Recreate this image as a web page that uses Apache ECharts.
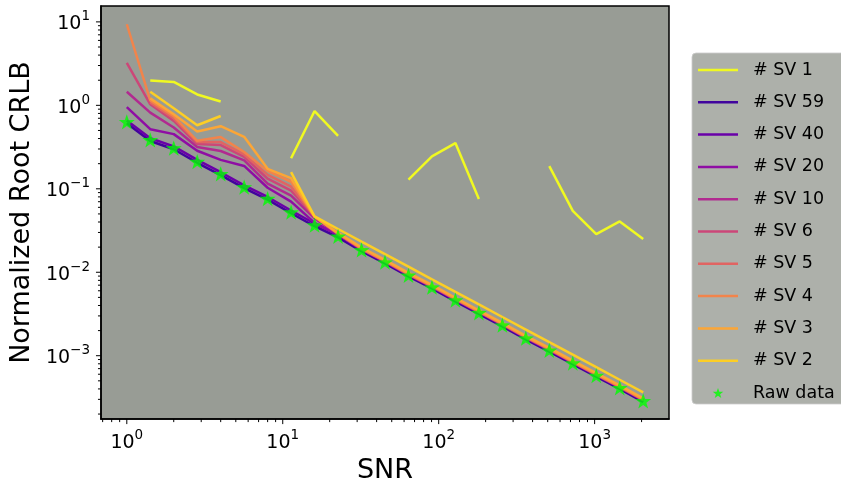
<!DOCTYPE html>
<html><head><meta charset="utf-8">
<script src="https://cdn.jsdelivr.net/npm/echarts@6/dist/echarts.min.js"></script>
<style>html,body{margin:0;padding:0;background:#fff}#c{width:841px;height:489px}</style>
</head><body><div id="c"></div>
<script>
// SNR sample points (x)
const snr = [1, 1.414, 2, 2.828, 4, 5.657, 8, 11.31, 16, 22.63, 32, 45.25, 64, 90.51, 128, 181.0, 256, 362.0, 512, 724.1, 1024, 1448, 2048];

// Normalized root CRLB per number of SVs (null = no value)
const sv1  = [null, 1.98, 1.91, 1.35, 1.11, null, null, 0.232, 0.855, 0.431, null, null, 0.129, 0.245, 0.353, 0.0756, null, null, 0.187, 0.0545, 0.0287, 0.0406, 0.025];
const sv59 = [0.612, 0.374, 0.298, 0.205, 0.146, 0.102, 0.0741, 0.0509, 0.0356, 0.0261, 0.0179, 0.0128, 0.0089, 0.00641, 0.00449, 0.00317, 0.00225, 0.00157, 0.00112, 0.00079, 0.00056, 0.0004, 0.000279];
const sv40 = [0.66, 0.403, 0.322, 0.222, 0.158, 0.11, 0.0798, 0.0549, 0.0384, 0.0281, 0.0193, 0.0138, 0.0096, 0.00691, 0.00484, 0.00342, 0.00242, 0.00169, 0.00121, 0.000853, 0.000604, 0.000431, 0.000301];
const sv20 = [0.954, 0.518, 0.452, 0.286, 0.222, 0.188, 0.103, 0.0702, 0.039, 0.0282, 0.0187, 0.0133, 0.00927, 0.00668, 0.00468, 0.0033, 0.00234, 0.00164, 0.00117, 0.000824, 0.000584, 0.000416, 0.000291];
const sv10 = [1.455, 0.819, 0.543, 0.317, 0.284, 0.219, 0.115, 0.0828, 0.0441, 0.0288, 0.0189, 0.01346, 0.00936, 0.00674, 0.00472, 0.00334, 0.00237, 0.00165, 0.00118, 0.000832, 0.00059, 0.00042, 0.000294];
const sv6  = [3.22, 1.028, 0.651, 0.344, 0.3345, 0.241, 0.132, 0.0949, 0.0466, 0.029, 0.0191, 0.0136, 0.00946, 0.00681, 0.00477, 0.00337, 0.00239, 0.00167, 0.00119, 0.00084, 0.000595, 0.000424, 0.000297];
const sv5  = [null, 1.086, 0.70, 0.363, 0.363, 0.258, 0.147, 0.106, 0.0466, 0.0291, 0.0192, 0.01366, 0.0095, 0.00684, 0.00479, 0.00338, 0.0024, 0.00168, 0.0012, 0.000845, 0.000598, 0.000426, 0.000298];
const sv4  = [9.37, 1.147, 0.74, 0.376, 0.4165, 0.276, 0.164, 0.1215, 0.0466, 0.0292, 0.01924, 0.01373, 0.00955, 0.00687, 0.00482, 0.0034, 0.00241, 0.001685, 0.001206, 0.000849, 0.000601, 0.000428, 0.0003];
const sv3  = [null, 1.211, 0.782, 0.487, 0.563, 0.42, 0.1734, 0.1344, 0.0466, 0.0296, 0.0198, 0.0141, 0.00982, 0.00707, 0.00495, 0.0035, 0.00248, 0.00173, 0.00124, 0.000873, 0.000618, 0.000441, 0.000308];
const sv2  = [null, 1.455, 0.921, 0.578, 0.746, null, null, 0.1584, 0.0466, 0.033, 0.0233, 0.01647, 0.01166, 0.00824, 0.00583, 0.00412, 0.00291, 0.00206, 0.001457, 0.00103, 0.000729, 0.000515, 0.000364];
const rawData = [0.633, 0.386, 0.308, 0.212, 0.151, 0.105, 0.0764, 0.0525, 0.0367, 0.0269, 0.0185, 0.0132, 0.00918, 0.00661, 0.00463, 0.00327, 0.00232, 0.00162, 0.00116, 0.000816, 0.000578, 0.000412, 0.000288];

const lineNames = ['# SV 1', '# SV 59', '# SV 40', '# SV 20', '# SV 10', '# SV 6', '# SV 5', '# SV 4', '# SV 3', '# SV 2'];
const lineValues = [sv1, sv59, sv40, sv20, sv10, sv6, sv5, sv4, sv3, sv2];
const rawName = 'Raw data';

// tick values
const xMajorTicks = [1, 10, 100, 1000];
const xMinorTicks = [0.7, 0.8, 0.9, 2, 3, 4, 5, 6, 7, 8, 9, 20, 30, 40, 50, 60, 70, 80, 90, 200, 300, 400, 500, 600, 700, 800, 900, 2000];
const yMajorTicks = [0.001, 0.01, 0.1, 1, 10];
const yMinorTicks = [0.0002, 0.0003, 0.0004, 0.0005, 0.0006, 0.0007, 0.0008, 0.0009,
  0.002, 0.003, 0.004, 0.005, 0.006, 0.007, 0.008, 0.009,
  0.02, 0.03, 0.04, 0.05, 0.06, 0.07, 0.08, 0.09,
  0.2, 0.3, 0.4, 0.5, 0.6, 0.7, 0.8, 0.9,
  2, 3, 4, 5, 6, 7, 8, 9];

const colors = ['#f0f921', '#41049d', '#6a00a8', '#8f0da4', '#b12a90', '#cc4778', '#e16462', '#f2844b', '#fca636', '#fcce25'];
const X_MIN = 0.683, X_MAX = 2998, Y_MIN = 1.74e-4, Y_MAX = 15.5;
const FONT = 'DejaVu Sans';
const STAR = 'path://M0,-10 L2.35,-3.24 L9.51,-3.09 L3.8,1.24 L5.88,8.09 L0,4 L-5.88,8.09 L-3.8,1.24 L-9.51,-3.09 L-2.35,-3.24 Z';
const LINE_ICON = 'path://M0,0 L40,0 L40,2.5 L0,2.5 Z';

function expLabel(v) {
  const e = Math.round(Math.log10(v));
  const s = e < 0 ? '\u2212' + (-e) : String(e);
  return '{b|10}{s|' + s + '}';
}
const rich = {
  b: {fontSize: 19, fontFamily: FONT, color: '#000', lineHeight: 24, verticalAlign: 'bottom'},
  s: {fontSize: 13.5, fontFamily: FONT, color: '#000', verticalAlign: 'top', lineHeight: 14}
};

function tickSeries(values, dir, len) {
  return {
    type: 'custom', silent: true, clip: false, z: 10, animation: false,
    data: values.map(v => dir === 'x' ? [v, Y_MIN] : [X_MIN, v]),
    renderItem: function (params, api) {
      const p = api.coord([api.value(0), api.value(1)]);
      const shape = dir === 'x'
        ? {x1: p[0], y1: p[1], x2: p[0], y2: p[1] + len}
        : {x1: p[0], y1: p[1], x2: p[0] - len, y2: p[1]};
      return {type: 'line', shape: shape, style: {stroke: '#000', lineWidth: 1}};
    }
  };
}

const series = lineNames.map((name, i) => ({
  name: name, type: 'line', symbol: 'none', showSymbol: false,
  data: snr.map((x, j) => [x, lineValues[i][j]]),
  connectNulls: false,
  lineStyle: {color: colors[i], width: 2.5},
  itemStyle: {color: colors[i]},
  z: 2
}));
series.push({
  name: rawName, type: 'scatter', symbol: STAR, symbolSize: 16, symbolKeepAspect: true,
  data: snr.map((x, j) => [x, rawData[j]]),
  itemStyle: {color: '#00ff00'}, z: 3
});
series.push(tickSeries(xMajorTicks, 'x', 5));
series.push(tickSeries(xMinorTicks, 'x', 3));
series.push(tickSeries(yMajorTicks, 'y', 5));
series.push(tickSeries(yMinorTicks, 'y', 3));

const legendData = lineNames.map(n => ({name: n, icon: LINE_ICON})).concat([{name: rawName, icon: STAR}]);

const chart = echarts.init(document.getElementById('c'), null, {renderer: 'canvas'});
chart.setOption({
  animation: false,
  backgroundColor: '#ffffff',
  textStyle: {fontFamily: FONT},
  grid: {left: 98, top: 6, width: 571, height: 416, show: true, backgroundColor: '#989c95', borderColor: '#000', borderWidth: 1.5, containLabel: false},
  xAxis: {
    type: 'log', logBase: 10, min: X_MIN, max: X_MAX,
    name: 'SNR', nameLocation: 'middle', nameGap: 33,
    nameTextStyle: {fontSize: 27, fontFamily: FONT, color: '#000'},
    axisLine: {show: true, lineStyle: {color: '#000', width: 1.5}},
    axisTick: {show: false}, minorTick: {show: false},
    splitLine: {show: false},
    axisLabel: {showMinLabel: false, showMaxLabel: false, margin: 9, formatter: expLabel, rich: rich}
  },
  yAxis: {
    type: 'log', logBase: 10, min: Y_MIN, max: Y_MAX,
    name: 'Normalized Root CRLB', nameLocation: 'middle', nameGap: 62,
    nameTextStyle: {fontSize: 27, fontFamily: FONT, color: '#000'},
    axisLine: {show: true, lineStyle: {color: '#000', width: 1.5}},
    axisTick: {show: false}, minorTick: {show: false},
    splitLine: {show: false},
    axisLabel: {showMinLabel: false, showMaxLabel: false, margin: 11, formatter: expLabel, rich: rich}
  },
  legend: {
    orient: 'vertical', left: 692, top: 53,
    data: legendData,
    itemWidth: 40, itemHeight: 10, itemGap: 14.3,
    symbolKeepAspect: true,
    padding: [8, 10, 2, 6],
    backgroundColor: 'rgba(152,156,149,0.8)',
    borderColor: 'rgba(204,204,204,0.8)', borderWidth: 1, borderRadius: 4,
    textStyle: {fontSize: 17.5, fontFamily: FONT, color: '#000', lineHeight: 14, padding: [0, 0, 0, 10]},
    selectedMode: false
  },
  series: series
});
</script>
</body></html>
